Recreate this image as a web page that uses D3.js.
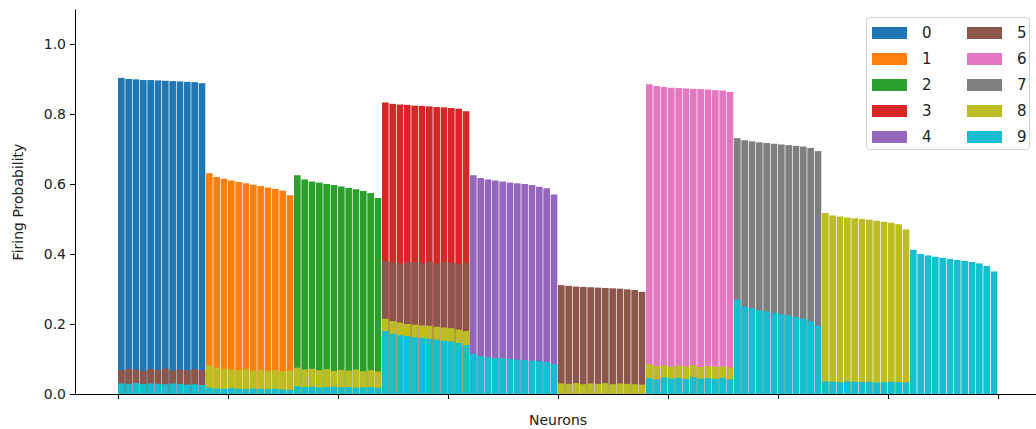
<!DOCTYPE html>
<html>
<head>
<meta charset="utf-8">
<script src="https://cdn.jsdelivr.net/npm/d3@7"></script>
<style>
  body { margin: 0; background: #fff; }
  text { font-family: "DejaVu Sans", sans-serif; fill: #222; }
</style>
</head>
<body>
<div id="chart"></div>
<script>
// digit classes and their colours (tab10)
const classes = ["0", "1", "2", "3", "4", "5", "6", "7", "8", "9"];
const colors = ["#1f77b4", "#ff7f0e", "#2ca02c", "#d62728", "#9467bd",
                "#8c564b", "#e377c2", "#7f7f7f", "#bcbd22", "#17becf"];

// firing probability of each neuron for its own class (12 neurons per class, sorted)
const ownProb = [
  [0.903, 0.900, 0.899, 0.897, 0.897, 0.896, 0.895, 0.894, 0.893, 0.892, 0.891, 0.888],
  [0.631, 0.620, 0.615, 0.610, 0.606, 0.602, 0.598, 0.594, 0.590, 0.586, 0.581, 0.568],
  [0.625, 0.613, 0.607, 0.604, 0.600, 0.597, 0.593, 0.589, 0.585, 0.580, 0.574, 0.560],
  [0.833, 0.829, 0.827, 0.826, 0.824, 0.823, 0.822, 0.820, 0.819, 0.817, 0.815, 0.808],
  [0.625, 0.617, 0.613, 0.610, 0.607, 0.604, 0.602, 0.600, 0.597, 0.592, 0.588, 0.570],
  [0.311, 0.309, 0.307, 0.306, 0.305, 0.304, 0.303, 0.302, 0.301, 0.299, 0.297, 0.292],
  [0.885, 0.880, 0.877, 0.875, 0.874, 0.873, 0.872, 0.871, 0.870, 0.868, 0.867, 0.863],
  [0.731, 0.725, 0.722, 0.719, 0.717, 0.715, 0.713, 0.711, 0.709, 0.707, 0.703, 0.694],
  [0.517, 0.510, 0.507, 0.504, 0.502, 0.500, 0.498, 0.495, 0.492, 0.489, 0.485, 0.470],
  [0.412, 0.400, 0.396, 0.392, 0.389, 0.386, 0.383, 0.380, 0.377, 0.373, 0.366, 0.350]
];

// firing probability for digits 5, 8 and 9 on other classes' neurons (null = hidden)
const prob5 = [
  [0.068, 0.072, 0.070, 0.066, 0.071, 0.069, 0.073, 0.067, 0.070, 0.068, 0.071, 0.069],
  null, null,
  [0.380, 0.375, 0.372, 0.378, 0.376, 0.374, 0.379, 0.373, 0.377, 0.375, 0.372, 0.374],
  null, null, null, null, null, null
];
const prob8 = [
  null,
  [0.082, 0.075, 0.072, 0.070, 0.068, 0.071, 0.067, 0.069, 0.066, 0.068, 0.065, 0.067],
  [0.075, 0.070, 0.072, 0.068, 0.071, 0.066, 0.069, 0.067, 0.070, 0.065, 0.068, 0.064],
  [0.215, 0.208, 0.204, 0.200, 0.198, 0.196, 0.195, 0.192, 0.190, 0.188, 0.184, 0.180],
  null,
  [0.030, 0.029, 0.031, 0.028, 0.030, 0.029, 0.031, 0.028, 0.030, 0.029, 0.028, 0.027],
  [0.085, 0.080, 0.082, 0.078, 0.081, 0.079, 0.083, 0.077, 0.080, 0.078, 0.079, 0.076],
  null, null, null
];
const prob9 = [
  [0.030, 0.029, 0.031, 0.028, 0.030, 0.029, 0.028, 0.030, 0.029, 0.027, 0.028, 0.026],
  [0.018, 0.016, 0.015, 0.017, 0.015, 0.014, 0.016, 0.015, 0.014, 0.015, 0.013, 0.012],
  [0.022, 0.020, 0.021, 0.019, 0.020, 0.021, 0.019, 0.020, 0.018, 0.019, 0.020, 0.018],
  [0.180, 0.172, 0.168, 0.165, 0.162, 0.160, 0.158, 0.155, 0.152, 0.150, 0.146, 0.140],
  [0.115, 0.108, 0.105, 0.103, 0.102, 0.100, 0.098, 0.097, 0.095, 0.094, 0.091, 0.085],
  null,
  [0.045, 0.042, 0.047, 0.044, 0.046, 0.043, 0.048, 0.044, 0.045, 0.043, 0.046, 0.042],
  [0.270, 0.250, 0.245, 0.240, 0.236, 0.232, 0.228, 0.225, 0.220, 0.215, 0.208, 0.195],
  [0.036, 0.035, 0.034, 0.036, 0.035, 0.034, 0.035, 0.033, 0.034, 0.035, 0.034, 0.033],
  null
];
const yTicks = [0, 0.2, 0.4, 0.6, 0.8, 1.0];

const width = 1036, height = 429;
const perClass = ownProb[0].length;
const nNeurons = classes.length * perClass;

const svg = d3.select("#chart").append("svg")
    .attr("width", width)
    .attr("height", height);

const x = d3.scaleLinear().domain([0, nNeurons]).range([118, 998]);
const y = d3.scaleLinear().domain([0, 1.1]).range([394, 9]);

// build one list of bars per digit, drawn in order so later digits cover earlier ones
const others = { 5: prob5, 8: prob8, 9: prob9 };
const layers = classes.map((_, d) => {
    const bars = [];
    ownProb.forEach((row, c) => {
        row.forEach((v, i) => {
            let val = null;
            if (c === d) val = v;
            else if (others[d] && others[d][c]) val = others[d][c][i];
            if (val !== null) bars.push({ idx: c * perClass + i, val });
        });
    });
    return bars;
});

const gap = 0.7;
svg.append("g").selectAll("g")
    .data(layers)
    .join("g")
    .attr("fill", (d, i) => colors[i])
    .selectAll("rect")
    .data(d => d)
    .join("rect")
    .attr("x", d => x(d.idx))
    .attr("width", d => x(d.idx + 1) - x(d.idx) - gap)
    .attr("y", d => y(d.val))
    .attr("height", d => y(0) - y(d.val));

// axes
const yAxis = svg.append("g")
    .attr("transform", "translate(75,0)")
    .call(d3.axisLeft(y).tickValues(yTicks).tickFormat(d3.format(".1f")).tickSize(5).tickPadding(4).tickSizeOuter(0));
yAxis.selectAll("text").style("font-size", "14px");

const xAxis = svg.append("g")
    .attr("transform", "translate(0,394)")
    .call(d3.axisBottom(x).tickValues(d3.range(0, nNeurons + 1, 15)).tickFormat("").tickSize(5).tickSizeOuter(0));
xAxis.select(".domain").remove();
svg.append("line")
    .attr("x1", 75).attr("x2", 1042)
    .attr("y1", 394.5).attr("y2", 394.5)
    .attr("stroke", "#000");
svg.selectAll(".tick line").attr("stroke", "#000");
yAxis.select(".domain").attr("stroke", "#000");

svg.append("text")
    .attr("x", 558).attr("y", 425)
    .attr("text-anchor", "middle")
    .style("font-size", "14px")
    .text("Neurons");

svg.append("text")
    .attr("transform", "translate(23,202) rotate(-90)")
    .attr("text-anchor", "middle")
    .style("font-size", "14px")
    .text("Firing Probability");

// legend, two columns
const legend = svg.append("g");
legend.append("rect")
    .attr("x", 866.5).attr("y", 17.5)
    .attr("width", 163).attr("height", 132)
    .attr("rx", 3)
    .attr("fill", "#fff").attr("fill-opacity", 0.85)
    .attr("stroke", "#d0d0d0");
const item = legend.selectAll("g.item")
    .data(classes)
    .join("g")
    .attr("transform", (d, i) => `translate(${i < 5 ? 872 : 967},${33 + 26 * (i % 5)})`);
item.append("rect")
    .attr("x", 0).attr("y", -6)
    .attr("width", 35).attr("height", 12)
    .attr("fill", (d, i) => colors[i]);
item.append("text")
    .attr("x", 50).attr("y", 5)
    .style("font-size", "15px")
    .text(d => d);
</script>
</body>
</html>
